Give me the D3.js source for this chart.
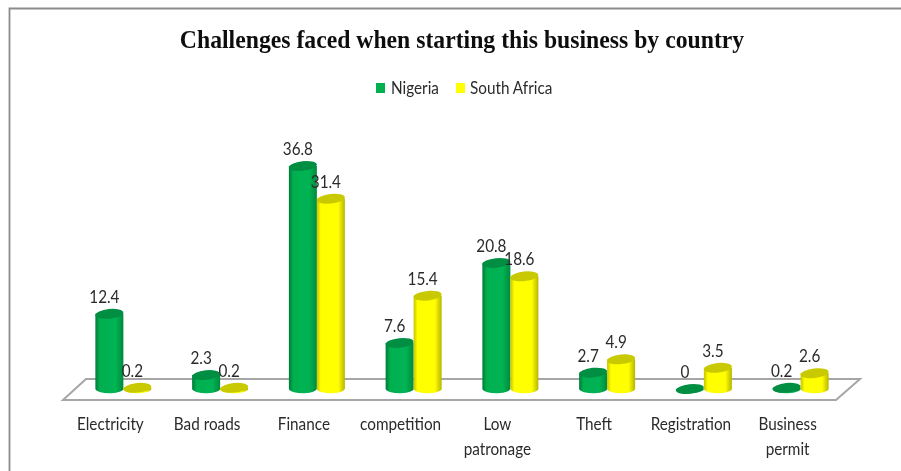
<!DOCTYPE html>
<html><head><meta charset="utf-8">
<script src="https://cdn.jsdelivr.net/npm/d3@7"></script>
<style>html,body{margin:0;padding:0;background:#fff}svg{display:block}</style>
</head><body><svg id="c" width="901" height="471"></svg>
<script>
const categories=[["Electricity"],["Bad roads"],["Finance"],["competition"],["Low","patronage"],["Theft"],["Registration"],["Business","permit"]];
const nigeria=[12.4,2.3,36.8,7.6,20.8,2.7,0,0.2];
const southAfrica=[0.2,0.2,31.4,15.4,18.6,4.9,3.5,2.6];
const seriesNames=["Nigeria","South Africa"];
const svg=d3.select("#c");
const defs=svg.append("defs");
function grad(id,stops){const g=defs.append("linearGradient").attr("id",id);stops.forEach(s=>g.append("stop").attr("offset",s[0]).attr("stop-color",s[1]));}
grad("gG",[[0,"#007a3a"],[.16,"#00b050"],[.72,"#00b353"],[1,"#008a3e"]]);
grad("gY",[[0,"#c4c400"],[.14,"#ffff00"],[.76,"#ffff00"],[1,"#b5b500"]]);
defs.append("filter").attr("id","soft").attr("x","-5%").attr("y","-5%").attr("width","110%").attr("height","110%")
 .append("feGaussianBlur").attr("stdDeviation",0.45);
const root=svg.append("g").attr("filter","url(#soft)");
root.append("rect").attr("width",901).attr("height",471).attr("fill","#fff");
const x0=d3.scaleBand().domain(d3.range(8)).range([75,849]);
const y=d3.scaleLinear().domain([0,36.8]).range([389,166]);
const barW=28;
root.append("path").attr("d","M9.5,471V8.5H901").attr("fill","none").attr("stroke","#8c8c8c").attr("stroke-width",1.8);
root.append("path").attr("d","M63,400H836L860,379H86Z").attr("fill","#fff").attr("stroke","#a6a6a6").attr("stroke-width",2);
root.append("text").attr("transform","translate(462,48) scale(0.93,1)").attr("text-anchor","middle")
 .attr("font-family","Liberation Serif").attr("font-weight","bold").attr("font-size",25.5).attr("fill","#111")
 .text("Challenges faced when starting this business by country");
const lf="Lato";
function label(x,yy,t,anchor){
 root.append("text").attr("transform",`translate(${x},${yy}) scale(0.9,1)`).attr("text-anchor",anchor||"middle")
  .attr("font-family",lf).attr("font-size",17).attr("fill","#2b2b2b").text(t);
}
[[376,seriesNames[0],"#00b050",391],[456,seriesNames[1],"#ffff00",470]].forEach(d=>{
 root.append("rect").attr("x",d[0]).attr("y",83).attr("width",9).attr("height",10).attr("fill",d[2]);
 label(d[3],94,d[1],"start");
});
function cyl(cx,v,fill,dark){
 const top=y(v),base=y(0),rx=barW/2,ry=4.8,ang=-6;
 const g=root.append("g");
 g.append("path").attr("d",`M${cx-rx},${top}V${base}A${rx},${ry} 0 0 0 ${cx+rx},${base-1}V${top}Z`).attr("fill",`url(#${fill})`);
 g.append("ellipse").attr("cx",cx).attr("cy",top).attr("rx",rx).attr("ry",ry)
  .attr("transform",`rotate(${ang} ${cx} ${top})`).attr("fill",dark);
}
categories.forEach((c,i)=>{
 const m=x0(i)+x0.bandwidth()/2;
 cyl(m-barW/2,nigeria[i],"gG","#008f42");
 cyl(m+barW/2,southAfrica[i],"gY","#c9c900");
});
categories.forEach((c,i)=>{
 const m=x0(i)+x0.bandwidth()/2;
 label(m-barW/2-5,y(nigeria[i])-11,nigeria[i]);
 label(m+barW/2-5,y(southAfrica[i])-11,southAfrica[i]);
 c.forEach((t,j)=>label(m-13,430+j*25,t));
});
</script></body></html>
